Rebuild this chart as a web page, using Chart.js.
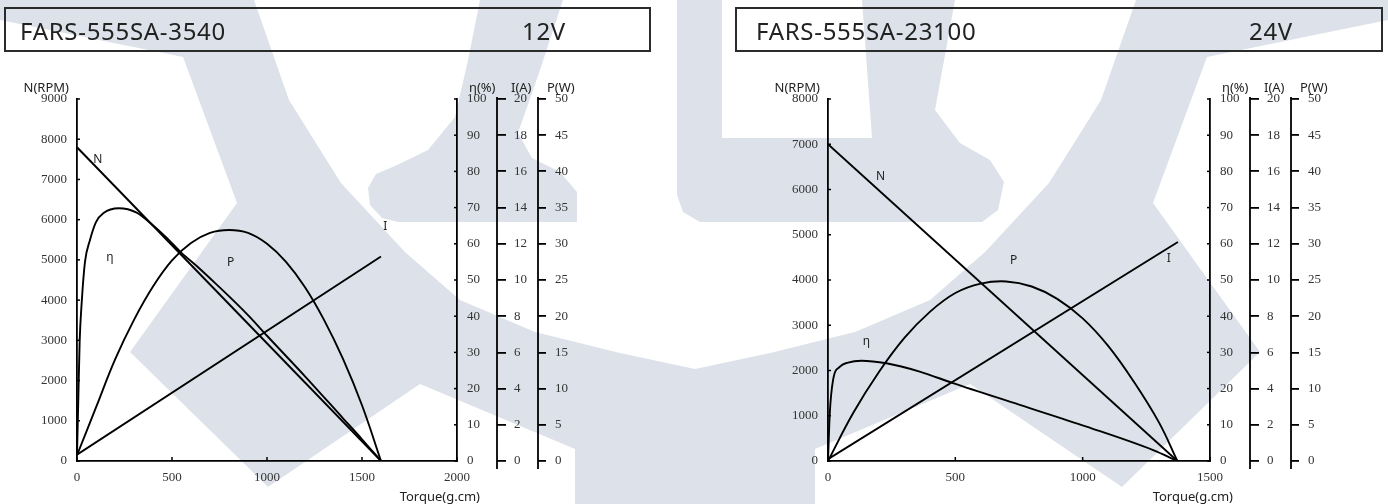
<!DOCTYPE html>
<html>
<head>
<meta charset="utf-8">
<script src="https://cdn.jsdelivr.net/npm/chart.js@4.4.0/dist/chart.umd.min.js"></script>
<style>
html, body { margin: 0; padding: 0; background: #fff; }
#page { position: relative; width: 1388px; height: 504px; overflow: hidden; }
#wm { position: absolute; left: 0; top: 0; }
.chart { position: absolute; top: 0; width: 694px; height: 504px; }
.title { position: absolute; top: 7px; height: 45px; box-sizing: border-box; border: 2px solid #2b2b2b;
         font-family: "Noto Sans", sans-serif; font-size: 24px; color: #222; letter-spacing: 0.7px; }
.title span { position: absolute; top: 4px; line-height: 36px; }
</style>
</head>
<body>
<div id="page">
  <canvas id="wm" width="1388" height="504"></canvas>
  <div class="chart" style="left:0"><canvas id="c12" width="694" height="504"></canvas></div>
  <div class="chart" style="left:694px"><canvas id="c24" width="694" height="504"></canvas></div>
  <div class="title" style="left:4px;width:647px"><span style="left:14px">FARS-555SA-3540</span><span style="left:516px">12V</span></div>
  <div class="title" style="left:735px;width:648px"><span style="left:19px">FARS-555SA-23100</span><span style="left:512px">24V</span></div>
</div>
<script>
// ---- FARS-555SA-3540, 12V ----
const nTorque12 = [0, 1600];
const nSpeed12 = [7800, 0];
const iTorque12 = [0, 1600];
const iCurrent12 = [0.35, 11.3];
const pTorque12 = [0, 100, 200, 300, 400, 500, 600, 700, 800, 900, 1000, 1100, 1200, 1300, 1400, 1500, 1600];
const pPower12 = [0.8, 7.4, 14.0, 19.5, 24.1, 27.7, 30.1, 31.5, 31.9, 31.5, 30.0, 27.5, 24.0, 19.5, 14.1, 7.7, 0];
const eTorque12 = [0, 6, 14, 25, 42, 68, 100, 140, 220, 314, 384, 471, 550, 640, 734, 900, 1000, 1200, 1400, 1500, 1600];
const eEff12 = [1.7, 15, 33, 44, 55, 61, 66, 68.5, 69.8, 68.6, 65.8, 61.7, 57.5, 53.4, 48.8, 40.3, 34.6, 23.4, 11.8, 6, 0];

// ---- FARS-555SA-23100, 24V ----
const nTorque24 = [0, 1372];
const nSpeed24 = [7000, 0];
const iTorque24 = [0, 1374];
const iCurrent24 = [0.1, 12.1];
const pTorque24 = [0, 100, 200, 300, 400, 500, 600, 700, 800, 900, 1000, 1100, 1200, 1300, 1372];
const pPower24 = [0, 6.7, 12.3, 17.0, 20.6, 23.2, 24.5, 24.8, 24.1, 22.4, 19.7, 15.9, 11.0, 5.3, 0];
const eTorque24 = [0, 7, 20, 46, 79, 131, 229, 360, 491, 753, 1015, 1277, 1372];
const eEff24 = [0, 13.2, 22.4, 26.0, 27.2, 27.7, 27.0, 24.7, 21.5, 15.5, 9.5, 3.0, 0];

// curve name labels, placed in (torque, rpm) units
const labelNames = ['N', 'η', 'P', 'I'];
const labelTorque12 = [110, 173, 808, 1622];
const labelSpeed12 = [7490, 5050, 4930, 5830];
const labelTorque24 = [206, 151, 729, 1338];
const labelSpeed24 = [6280, 2650, 4420, 4464];

// background watermark (decoration only)
const wmV = [[0,0],[254,0],[289,100],[341,183],[405,252],[460,300],[535,332],[620,353],[695,369],[770,353],[855,332],
  [930,300],[985,252],[1049,183],[1101,100],[1136,0],[1388,0],[1388,20],[1207,57],[1153,203],[1260,352],[1122,487],
  [970,384],[815,449],[815,504],[575,504],[575,449],[420,384],[268,487],[130,352],[237,203],[183,57],[0,20]];
const wmArmL = [[480,0],[563,0],[540,70],[518,133],[532,158],[560,172],[577,192],[577,222],[398,222],[382,218],
  [370,205],[368,188],[376,174],[395,166],[428,150],[455,117],[468,60]];
const wmArmR = [[677,0],[722,0],[722,138],[872,138],[862,0],[955,0],[935,110],[960,143],[990,160],[1004,182],
  [998,210],[982,222],[700,222],[683,212],[677,195]];

const wm = document.getElementById('wm').getContext('2d');
wm.fillStyle = '#dde2ea';
[wmV, wmArmL, wmArmR].forEach(p => {
  wm.beginPath();
  p.forEach((q, i) => i ? wm.lineTo(q[0], q[1]) : wm.moveTo(q[0], q[1]));
  wm.closePath();
  wm.fill();
});

const tickFont = { family: 'Liberation Serif', size: 13 };
const tickColor = '#333';
const plain = { useGrouping: false };

function xy(xs, ys) { return xs.map((x, i) => ({ x: x, y: ys[i] })); }

function curve(data, axis, mode) {
  return {
    data: data, xAxisID: 'x', yAxisID: axis, showLine: true, fill: false,
    borderColor: '#000', borderWidth: 1.9, pointRadius: 0,
    tension: mode === 'smooth' ? 0.4 : 0,
    cubicInterpolationMode: mode === 'monotone' ? 'monotone' : 'default'
  };
}

function sideAxis(max, step, weight, width, tickLen, pad) {
  return {
    type: 'linear', position: 'right', weight: weight, min: 0, max: max,
    afterFit: s => { s.width = width; },
    ticks: { stepSize: step, font: tickFont, color: tickColor, padding: pad, autoSkip: false, format: plain },
    grid: { drawOnChartArea: false, drawTicks: tickLen > 0, tickLength: tickLen, color: '#000', lineWidth: 1.8 },
    border: { display: tickLen > 0 ? false : true, color: '#000', width: 1.8 }
  };
}

function line(ctx, x1, y1, x2, y2) {
  ctx.beginPath(); ctx.moveTo(x1, y1); ctx.lineTo(x2, y2); ctx.stroke();
}

const decor = {
  id: 'decor',
  afterDraw(chart, args, opts) {
    const ctx = chart.ctx, s = chart.scales, a = chart.chartArea;
    ctx.save();
    ctx.strokeStyle = '#000';
    ctx.lineWidth = 1.5;
    s.yN.ticks.forEach(t => { const y = s.yN.getPixelForValue(t.value); line(ctx, a.left, y, a.left + 3, y); });
    s.x.ticks.forEach(t => { const x = s.x.getPixelForValue(t.value); line(ctx, x, a.bottom, x, a.bottom - 4); });
    s.yE.ticks.forEach(t => { const y = s.yE.getPixelForValue(t.value); line(ctx, a.right - 3, y, a.right, y); });
    ctx.lineWidth = 1.8;
    [s.yI, s.yP].forEach(sc => line(ctx, sc.left, a.top - 2, sc.left, a.bottom + 8));

    ctx.fillStyle = '#222';
    ctx.font = '13px "Noto Sans"';
    ctx.textBaseline = 'middle';
    ctx.textAlign = 'right';
    ctx.fillText('N(RPM)', s.yN.right - 8, a.top - 11);
    ctx.fillText('Torque(g.cm)', s.x.right + 23, 497);
    ctx.textAlign = 'left';
    ctx.fillText('η(%)', s.yE.left + 12, a.top - 11);
    ctx.fillText('I(A)', s.yI.left + 14, a.top - 11);
    ctx.fillText('P(W)', s.yP.left + 9, a.top - 11);

    ctx.font = '12px "Noto Sans"';
    ctx.textAlign = 'center';
    opts.names.forEach((n, i) => {
      ctx.fillText(n, s.x.getPixelForValue(opts.tx[i]), s.yN.getPixelForValue(opts.ty[i]));
    });
    ctx.restore();
  }
};

function motorChart(id, c) {
  return new Chart(document.getElementById(id), {
    type: 'scatter',
    data: {
      datasets: [
        curve(xy(c.nT, c.nV), 'yN', 'straight'),
        curve(xy(c.iT, c.iV), 'yI', 'straight'),
        curve(xy(c.pT, c.pV), 'yP', 'smooth'),
        curve(xy(c.eT, c.eV), 'yE', 'monotone')
      ]
    },
    options: {
      responsive: false,
      animation: false,
      layout: { padding: { left: c.padLeft, right: c.padRight, top: 99, bottom: 0 } },
      scales: {
        x: {
          type: 'linear', min: 0, max: c.xMax,
          afterFit: s => { s.height = 43; },
          ticks: { stepSize: 500, font: tickFont, color: tickColor, padding: 9, maxRotation: 0, format: plain },
          grid: { drawOnChartArea: false, drawTicks: false },
          border: { color: '#000', width: 1.8 }
        },
        yN: {
          type: 'linear', position: 'left', min: 0, max: c.nMax,
          afterFit: s => { s.width = c.nWidth; },
          ticks: { stepSize: 1000, font: tickFont, color: tickColor, padding: 10, autoSkip: false, format: plain },
          grid: { drawOnChartArea: false, drawTicks: false },
          border: { color: '#000', width: 1.8 }
        },
        yE: sideAxis(100, 10, 1, 40, 0, 10),
        yI: sideAxis(20, 2, 2, 41, 9, 8),
        yP: sideAxis(50, 5, 3, 40, 8, 9)
      },
      plugins: {
        legend: { display: false },
        tooltip: { enabled: false },
        decor: { names: labelNames, tx: c.lx, ty: c.ly }
      }
    },
    plugins: [decor]
  });
}

motorChart('c12', {
  nT: nTorque12, nV: nSpeed12, iT: iTorque12, iV: iCurrent12,
  pT: pTorque12, pV: pPower12, eT: eTorque12, eV: eEff12,
  lx: labelTorque12, ly: labelSpeed12,
  xMax: 2000, nMax: 9000, padLeft: 0, nWidth: 77, padRight: 116
});

motorChart('c24', {
  nT: nTorque24, nV: nSpeed24, iT: iTorque24, iV: iCurrent24,
  pT: pTorque24, pV: pPower24, eT: eTorque24, eV: eEff24,
  lx: labelTorque24, ly: labelSpeed24,
  xMax: 1500, nMax: 8000, padLeft: 60, nWidth: 74, padRight: 57
});
</script>
</body>
</html>
